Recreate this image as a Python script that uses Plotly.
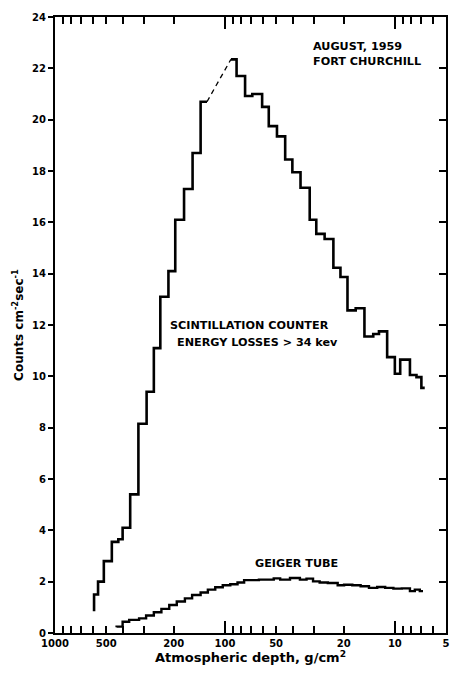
import numpy as np
import plotly.graph_objects as go

# ---------------- data ----------------
# Scintillation counter, rising part: bin edges (g/cm^2) and counts per bin
scint_rise_edges = [589, 558, 516, 463, 424, 400, 361, 323, 289, 262, 240, 215,
                    196, 174, 155, 139, 127.5]
scint_rise_counts = [1.5, 2.0, 2.8, 3.55, 3.65, 4.1, 5.4, 8.15, 9.4, 11.1, 13.1,
                     14.1, 16.1, 17.3, 18.7, 20.7]
scint_rise_start = 0.85

# Scintillation counter, falling part
scint_fall_edges = [92.2, 85.4, 76.1, 69.0, 60.4, 55.2, 49.4, 44.2, 40.1, 35.9,
                    31.7, 29.0, 25.9, 23.0, 20.9, 19.0, 17.0, 15.1, 13.4, 12.4,
                    11.1, 10.0, 9.3, 8.15, 7.46, 6.98, 6.67]
scint_fall_counts = [22.35, 21.7, 20.92, 21.0, 20.5, 19.75, 19.35, 18.45, 17.95,
                     17.35, 16.1, 15.55, 15.35, 14.23, 13.87, 12.57, 12.65, 11.55,
                     11.65, 11.75, 10.75, 10.1, 10.65, 10.05, 9.97, 9.55]

# Geiger tube
geiger_edges = [434, 400, 366, 320, 291, 262, 236.5, 212.6, 192, 172, 156, 139,
                126, 114, 103, 93, 84.3, 77.1, 63.1, 51.6, 47.3, 41.4, 36.2, 33.1,
                30.3, 27.7, 24.8, 21.7, 19.9, 17.8, 15.9, 14.2, 12.7, 11.4, 10.2,
                9.1, 8.15, 7.63, 7.13, 6.83]
geiger_counts = [0.25, 0.44, 0.51, 0.57, 0.68, 0.81, 0.94, 1.09, 1.23, 1.35, 1.48,
                 1.58, 1.69, 1.78, 1.86, 1.9, 1.97, 2.06, 2.08, 2.13, 2.08, 2.14,
                 2.08, 2.12, 2.01, 1.97, 1.95, 1.86, 1.88, 1.86, 1.82, 1.76, 1.79,
                 1.76, 1.73, 1.74, 1.63, 1.69, 1.63]
geiger_start = 0.22

# axis ticks
x_label_vals = [1000, 500, 200, 100, 50, 20, 10, 5]
x_label_text = ["1000", "500", "200", "100", "50", "20", "10", "5"]
x_minor_vals = [900, 800, 700, 600, 400, 300, 90, 80, 70, 60, 40, 30, 9, 8, 7, 6]
x_long_ticks = [100, 10]
y_tick_vals = list(range(0, 25, 2))


def step_xy(edges, counts, start=None):
    xs, ys = [], []
    if start is not None:
        xs.append(edges[0])
        ys.append(start)
    for e, c in zip(edges[:-1], counts):
        xs.append(e)
        ys.append(c)
    xs.append(edges[-1])
    ys.append(counts[-1])
    return xs, ys


FONT = "DejaVu Sans"
black = "black"

fig = go.Figure()

sx, sy = step_xy(scint_rise_edges, scint_rise_counts, scint_rise_start)
fig.add_trace(go.Scatter(x=sx, y=sy, mode="lines", line=dict(color=black, width=2.6, shape="hv"),
                         showlegend=False, hoverinfo="skip"))
fx, fy = step_xy(scint_fall_edges, scint_fall_counts)
fig.add_trace(go.Scatter(x=fx, y=fy, mode="lines", line=dict(color=black, width=2.6, shape="hv"),
                         showlegend=False, hoverinfo="skip"))
fig.add_trace(go.Scatter(x=[scint_rise_edges[-1], scint_fall_edges[0]],
                         y=[scint_rise_counts[-1], scint_fall_counts[0]],
                         mode="lines", line=dict(color=black, width=1.3, dash="5px,4px"),
                         showlegend=False, hoverinfo="skip"))
gx, gy = step_xy(geiger_edges, geiger_counts, geiger_start)
fig.add_trace(go.Scatter(x=gx, y=gy, mode="lines", line=dict(color=black, width=2.4, shape="hv"),
                         showlegend=False, hoverinfo="skip"))

# invisible anchors for the overlay axes
fig.add_trace(go.Scatter(x=gx[:1], y=gy[:1], xaxis="x2", yaxis="y", mode="markers",
                         marker=dict(opacity=0), showlegend=False, hoverinfo="skip"))
fig.add_trace(go.Scatter(x=gx[:1], y=gy[:1], xaxis="x", yaxis="y2", mode="markers",
                         marker=dict(opacity=0), showlegend=False, hoverinfo="skip"))

xrange = [np.log10(1000), np.log10(5)]

fig.update_layout(
    width=452, height=673,
    margin=dict(l=55, r=2, t=17, b=40),
    paper_bgcolor="white", plot_bgcolor="white",
    font=dict(family=FONT, color=black),
    xaxis=dict(type="log", range=xrange, autorange=False,
               tickmode="array", tickvals=x_label_vals, ticktext=x_label_text,
               ticks="inside", ticklen=7, tickwidth=2, tickcolor=black,
               ticklabeloverflow="allow",
               minor=dict(tickmode="array", tickvals=x_minor_vals, ticks="inside",
                          ticklen=7, tickwidth=2, tickcolor=black, showgrid=False),
               showline=True, linewidth=2, linecolor=black, mirror="ticks",
               showgrid=False, zeroline=False,
               tickfont=dict(family=FONT, size=10, weight="bold", color=black),
               title=dict(text="Atmospheric depth, g/cm<sup>2</sup>",
                          font=dict(family=FONT, size=13, weight="bold", color=black),
                          standoff=2)),
    xaxis2=dict(type="log", range=xrange, autorange=False, overlaying="x", anchor="y",
                side="bottom", tickmode="array", tickvals=x_long_ticks,
                ticks="inside", ticklen=12, tickwidth=2, tickcolor=black,
                showticklabels=False, showline=True, linewidth=2, linecolor=black,
                mirror="ticks", showgrid=False, zeroline=False),
    yaxis=dict(range=[0, 24], autorange=False, tickmode="array", tickvals=y_tick_vals,
               ticks="outside", ticklen=5, tickwidth=2, tickcolor=black,
               showline=True, linewidth=2, linecolor=black,
               showgrid=False, zeroline=False,
               tickfont=dict(family=FONT, size=10, weight="bold", color=black),
               title=dict(text="Counts cm<sup>-2</sup>sec<sup>-1</sup>",
                          font=dict(family=FONT, size=12, weight="bold", color=black),
                          standoff=6)),
    yaxis2=dict(range=[0, 24], autorange=False, overlaying="y", anchor="x", side="right",
                tickmode="array", tickvals=y_tick_vals,
                ticks="inside", ticklen=7, tickwidth=2, tickcolor=black,
                showticklabels=False, showline=True, linewidth=2, linecolor=black,
                showgrid=False, zeroline=False),
)

ann_font = dict(family=FONT, size=11.2, weight="bold", color=black)
annotations = [
    dict(text="AUGUST, 1959", x=np.log10(31.0), y=22.85, xanchor="left"),
    dict(text="FORT CHURCHILL", x=np.log10(31.0), y=22.25, xanchor="left"),
    dict(text="SCINTILLATION COUNTER", x=np.log10(217), y=12.0, xanchor="left"),
    dict(text="ENERGY LOSSES &gt; 34 kev", x=np.log10(198), y=11.3, xanchor="left"),
    dict(text="GEIGER TUBE", x=np.log10(37.8), y=2.7, xanchor="center"),
]
for a in annotations:
    fig.add_annotation(xref="x", yref="y", yanchor="middle", showarrow=False,
                       font=ann_font, **a)

fig.write_html("out.html")
